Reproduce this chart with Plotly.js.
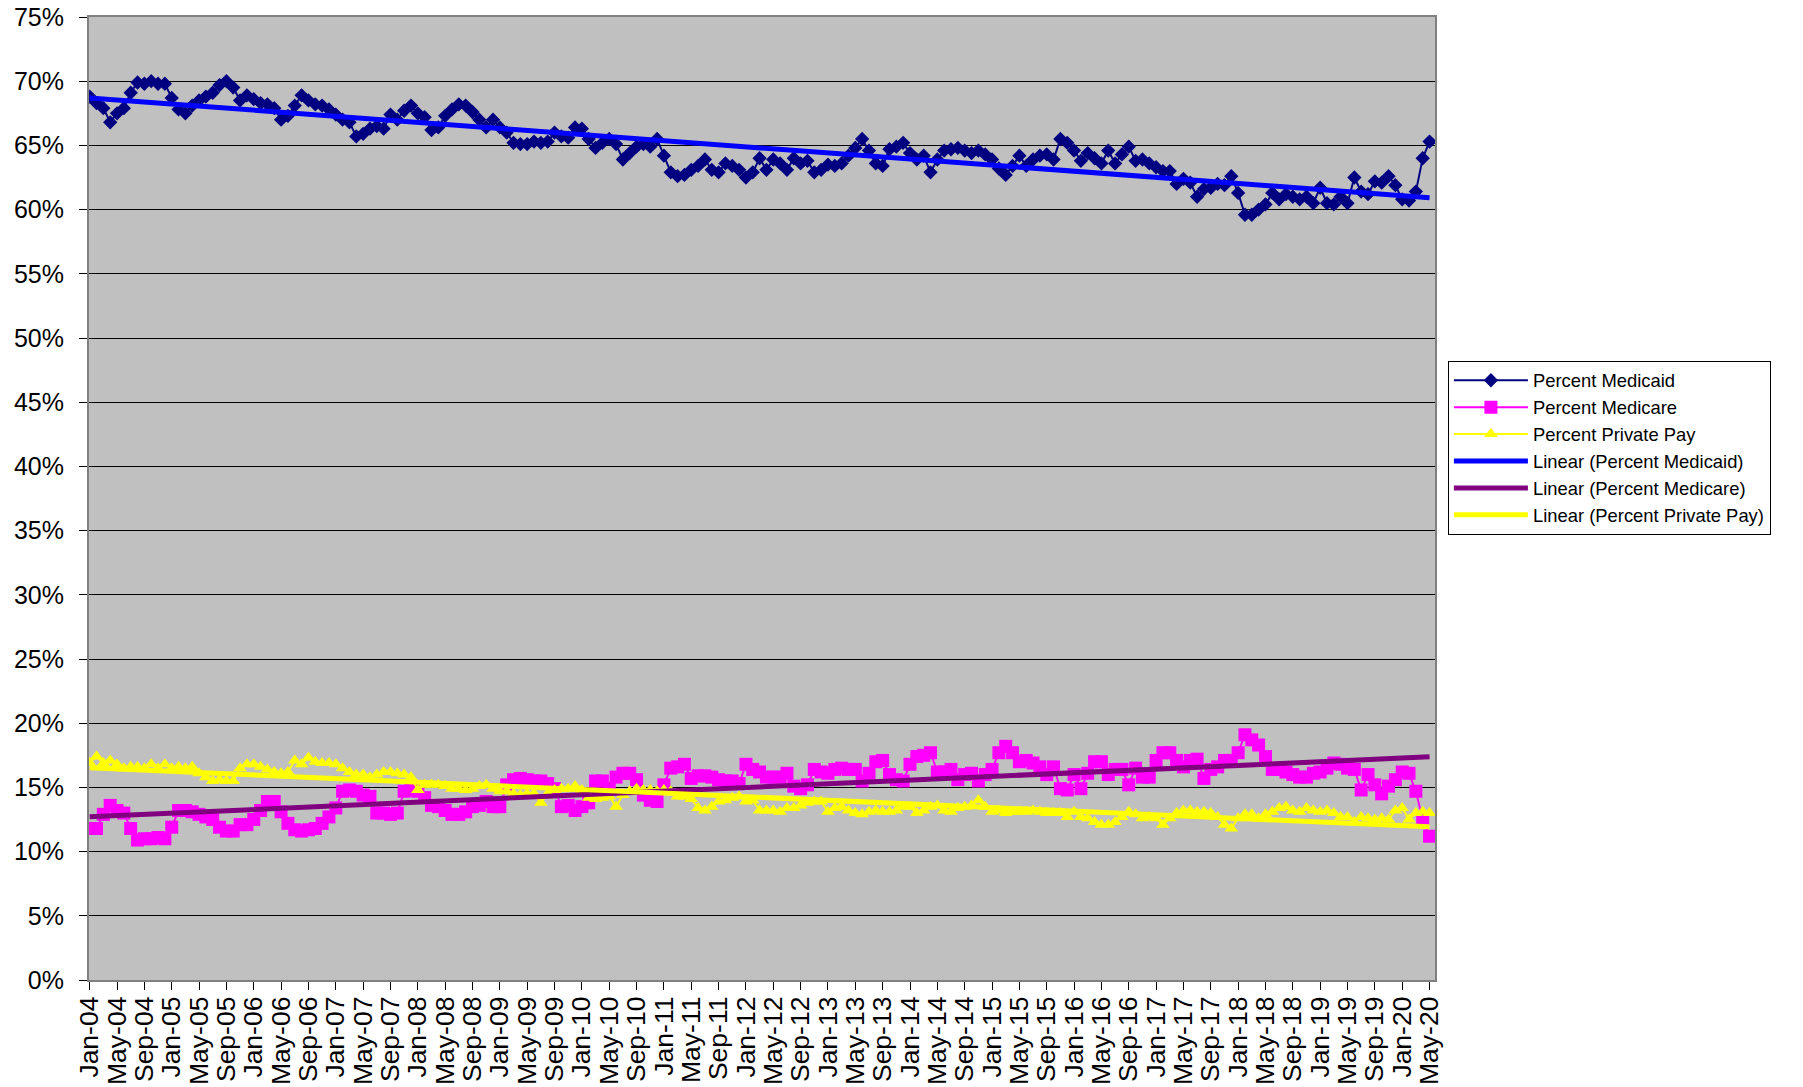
<!DOCTYPE html>
<html>
<head>
<meta charset="utf-8">
<script src="https://cdn.plot.ly/plotly-3.0.1.min.js"></script>
<style>html,body{margin:0;padding:0;background:#fff;}#chart{width:1803px;height:1087px;}</style>
</head>
<body>
<div id="chart"></div>
<script>
// Month labels Jan-04 .. May-20
const monthNames = ['Jan','Feb','Mar','Apr','May','Jun','Jul','Aug','Sep','Oct','Nov','Dec'];
const startYear = 2004, endYear = 2020, endMonth = 4; // May-20 (0-based 4)
const categories = [];
for (let y = startYear; y <= endYear; y++) {
  for (let m = 0; m < 12; m++) {
    if (y === endYear && m > endMonth) break;
    categories.push(monthNames[m] + '-' + String(y % 100).padStart(2, '0'));
  }
}

const percentMedicaid = [
  68.8, 68.3, 67.9, 66.8, 67.5, 67.9, 69.1, 69.9, 69.8, 70.0,
  69.8, 69.8, 68.7, 67.8, 67.5, 68.1, 68.5, 68.8, 69.1, 69.7,
  70.0, 69.5, 68.5, 68.9, 68.6, 68.3, 68.2, 67.9, 67.0, 67.3,
  68.1, 68.9, 68.5, 68.2, 68.1, 67.8, 67.4, 67.0, 66.8, 65.7,
  65.9, 66.3, 66.5, 66.3, 67.4, 67.0, 67.7, 68.1, 67.5, 67.2,
  66.2, 66.4, 67.3, 67.8, 68.2, 68.1, 67.6, 67.0, 66.4, 67.0,
  66.4, 66.0, 65.2, 65.1, 65.1, 65.3, 65.2, 65.3, 66.0, 65.7,
  65.6, 66.4, 66.3, 65.5, 64.8, 65.2, 65.5, 65.1, 63.9, 64.4,
  64.9, 65.1, 64.9, 65.5, 64.2, 62.9, 62.6, 62.7, 63.1, 63.4,
  63.9, 63.1, 62.9, 63.6, 63.4, 63.1, 62.5, 62.9, 64.0, 63.1,
  63.9, 63.6, 63.1, 64.0, 63.6, 63.8, 62.9, 63.1, 63.5, 63.4,
  63.6, 64.2, 64.8, 65.5, 64.6, 63.6, 63.4, 64.7, 64.9, 65.2,
  64.4, 63.9, 64.2, 62.9, 63.9, 64.6, 64.7, 64.8, 64.6, 64.4,
  64.6, 64.3, 63.9, 63.2, 62.7, 63.4, 64.2, 63.4, 63.9, 64.2,
  64.3, 63.9, 65.5, 65.2, 64.6, 63.8, 64.4, 64.0, 63.6, 64.6,
  63.6, 64.3, 64.9, 63.8, 63.9, 63.6, 63.3, 63.0, 63.0, 62.0,
  62.4, 62.1, 61.0, 61.6, 61.7, 62.0, 61.9, 62.6, 61.3, 59.6,
  59.6, 60.0, 60.4, 61.3, 60.8, 61.2, 61.0, 60.8, 61.0, 60.5,
  61.7, 60.5, 60.4, 61.0, 60.5, 62.5, 61.4, 61.2, 62.2, 62.1,
  62.6, 61.9, 60.8, 60.7, 61.4, 64.0, 65.3
];

const percentMedicare = [
  11.8, 11.8, 12.9, 13.6, 13.2, 13.0, 11.8, 10.9, 11.0, 11.0,
  11.1, 11.0, 11.9, 13.2, 13.2, 13.1, 12.9, 12.7, 12.5, 11.9,
  11.6, 11.6, 12.1, 12.1, 12.5, 13.2, 13.9, 13.9, 13.1, 12.2,
  11.7, 11.6, 11.7, 11.8, 12.2, 12.7, 13.4, 14.7, 14.8, 14.7,
  14.4, 14.3, 13.0, 13.0, 12.9, 13.0, 14.7, 14.8, 14.7, 14.2,
  13.6, 13.5, 13.2, 12.9, 12.9, 13.1, 13.5, 13.6, 13.9, 13.5,
  13.5, 15.2, 15.6, 15.7, 15.6, 15.5, 15.5, 15.3, 14.9, 13.5,
  13.6, 13.2, 13.5, 13.8, 15.5, 15.5, 14.9, 15.8, 16.1, 16.1,
  15.6, 14.4, 14.0, 13.9, 15.2, 16.5, 16.6, 16.8, 15.7, 15.9,
  15.9, 15.8, 15.6, 15.5, 15.5, 15.3, 16.8, 16.4, 16.2, 15.8,
  15.8, 15.8, 16.1, 15.1, 14.9, 15.2, 16.4, 16.2, 16.1, 16.4,
  16.5, 16.4, 16.4, 15.5, 16.1, 17.0, 17.1, 16.0, 15.6, 15.5,
  16.8, 17.4, 17.5, 17.7, 16.2, 16.2, 16.4, 15.6, 16.0, 16.1,
  15.5, 16.0, 16.4, 17.7, 18.2, 17.7, 17.0, 17.1, 16.9, 16.6,
  16.0, 16.6, 14.9, 14.8, 16.0, 14.9, 16.1, 17.0, 17.0, 16.0,
  16.4, 16.4, 15.2, 16.5, 15.8, 15.8, 17.1, 17.7, 17.7, 17.1,
  16.6, 17.1, 17.2, 15.7, 16.4, 16.6, 17.1, 17.1, 17.7, 19.1,
  18.7, 18.3, 17.4, 16.4, 16.4, 16.2, 16.0, 15.8, 15.8, 16.1,
  16.2, 16.5, 16.9, 16.8, 16.5, 16.4, 14.8, 16.0, 15.2, 14.5,
  15.1, 15.6, 16.2, 16.1, 14.7, 12.5, 11.2
];

const percentPrivatePay = [
  16.9, 17.4, 16.9, 17.1, 16.8, 16.5, 16.6, 16.6, 16.5, 16.8,
  16.5, 16.8, 16.5, 16.6, 16.5, 16.6, 16.1, 15.8, 15.5, 15.6,
  15.5, 15.5, 16.5, 16.8, 16.8, 16.6, 16.4, 16.2, 16.1, 16.2,
  17.1, 16.8, 17.3, 17.0, 16.9, 16.9, 16.8, 16.5, 16.2, 16.0,
  16.0, 15.8, 16.0, 16.2, 16.2, 16.1, 16.0, 15.8, 14.8, 15.2,
  15.2, 15.2, 15.1, 14.9, 14.9, 14.8, 14.9, 15.1, 15.2, 14.9,
  14.7, 14.7, 14.5, 14.4, 14.5, 14.5, 13.8, 14.5, 14.8, 14.9,
  14.9, 15.1, 14.8, 14.2, 14.1, 14.2, 14.3, 13.5, 14.4, 14.7,
  14.9, 14.8, 14.8, 14.7, 14.8, 14.7, 14.3, 14.3, 14.1, 13.4,
  13.2, 13.5, 13.9, 14.0, 14.2, 14.3, 13.9, 14.0, 13.2, 13.2,
  13.2, 13.1, 13.4, 13.4, 13.6, 13.8, 13.9, 13.9, 13.1, 13.4,
  13.5, 13.2, 13.0, 12.9, 13.1, 13.2, 13.1, 13.1, 13.2, 13.5,
  13.5, 13.0, 13.2, 13.5, 13.6, 13.2, 13.1, 13.4, 13.5, 13.6,
  14.0, 13.5, 13.1, 13.2, 13.0, 13.1, 13.1, 13.1, 13.2, 13.1,
  13.0, 13.0, 13.0, 12.7, 13.1, 12.7, 12.6, 12.3, 12.1, 12.1,
  12.3, 12.7, 13.1, 12.9, 12.6, 12.7, 12.6, 12.1, 12.6, 13.0,
  13.2, 13.2, 13.1, 13.1, 13.0, 12.7, 12.1, 11.8, 12.6, 12.9,
  12.9, 12.6, 12.9, 13.1, 13.4, 13.5, 13.2, 13.1, 13.4, 13.2,
  13.1, 13.2, 13.0, 12.7, 12.7, 12.3, 12.7, 12.6, 12.5, 12.6,
  12.5, 13.2, 13.4, 12.5, 13.0, 13.1, 13.0
];

const tickLabels = categories.filter((c, i) => i % 4 === 0);

// Least-squares linear trend (as the spreadsheet's "Linear" trendline)
function linearTrend(vals) {
  const n = vals.length;
  let sx = 0, sy = 0, sxx = 0, sxy = 0;
  vals.forEach((v, i) => { sx += i; sy += v; sxx += i * i; sxy += i * v; });
  const slope = (n * sxy - sx * sy) / (n * sxx - sx * sx);
  const icpt = (sy - slope * sx) / n;
  return categories.map((c, i) => icpt + slope * i);
}

const FONT = 'Liberation Sans, Arial, Helvetica, sans-serif';

const traces = [
  { name: 'Percent Medicaid', x: categories, y: percentMedicaid, mode: 'lines+markers',
    line: { color: '#000080', width: 2 }, marker: { symbol: 'diamond', size: 11, color: '#000080' } },
  { name: 'Percent Medicare', x: categories, y: percentMedicare, mode: 'lines+markers',
    line: { color: '#FF00FF', width: 2 }, marker: { symbol: 'square', size: 13, color: '#FF00FF' } },
  { name: 'Percent Private Pay', x: categories, y: percentPrivatePay, mode: 'lines+markers',
    line: { color: '#FFFF00', width: 2 }, marker: { symbol: 'triangle-up', size: 12, color: '#FFFF00' } },
  { name: 'Linear (Percent Medicaid)', x: categories, y: linearTrend(percentMedicaid), mode: 'lines',
    line: { color: '#0000FF', width: 5 } },
  { name: 'Linear (Percent Medicare)', x: categories, y: linearTrend(percentMedicare), mode: 'lines',
    line: { color: '#800080', width: 5 } },
  { name: 'Linear (Percent Private Pay)', x: categories, y: linearTrend(percentPrivatePay), mode: 'lines',
    line: { color: '#FFFF00', width: 5 } }
];

const layout = {
  width: 1803, height: 1087,
  margin: { l: 89, r: 368, t: 17, b: 107, pad: 0 },
  paper_bgcolor: '#FFFFFF',
  plot_bgcolor: '#C0C0C0',
  font: { family: FONT, color: '#000000' },
  showlegend: true,
  hovermode: false,
  xaxis: {
    type: 'category',
    range: [-0.1, 196.8],
    tickmode: 'array',
    tickvals: tickLabels,
    ticktext: tickLabels,
    tickangle: -90,
    ticks: 'outside', ticklen: 8, tickwidth: 1, tickcolor: '#000000',
    tickfont: { family: FONT, size: 26.5, color: '#000000' },
    ticklabelstandoff: -4,
    showgrid: false,
    showline: true, linecolor: '#808080', linewidth: 2, mirror: true,
    zeroline: false,
    automargin: false
  },
  yaxis: {
    range: [0, 75],
    tickmode: 'linear', tick0: 0, dtick: 5,
    ticksuffix: '%',
    ticks: 'outside', ticklen: 8, tickwidth: 1, tickcolor: '#000000',
    tickfont: { family: FONT, size: 25, color: '#000000' },
    ticklabelstandoff: 10,
    showgrid: true, gridcolor: '#000000', gridwidth: 1,
    showline: true, linecolor: '#808080', linewidth: 2, mirror: true,
    zeroline: false
  },
  legend: {
    x: 1.0096, y: 0.643, xanchor: 'left', yanchor: 'top',
    bgcolor: '#FFFFFF', bordercolor: '#000000', borderwidth: 1,
    font: { family: FONT, size: 18.4, color: '#000000' },
    itemwidth: 74, tracegroupgap: 0
  }
};

Plotly.newPlot('chart', traces, layout, { displayModeBar: false, staticPlot: true });
</script>
</body>
</html>
